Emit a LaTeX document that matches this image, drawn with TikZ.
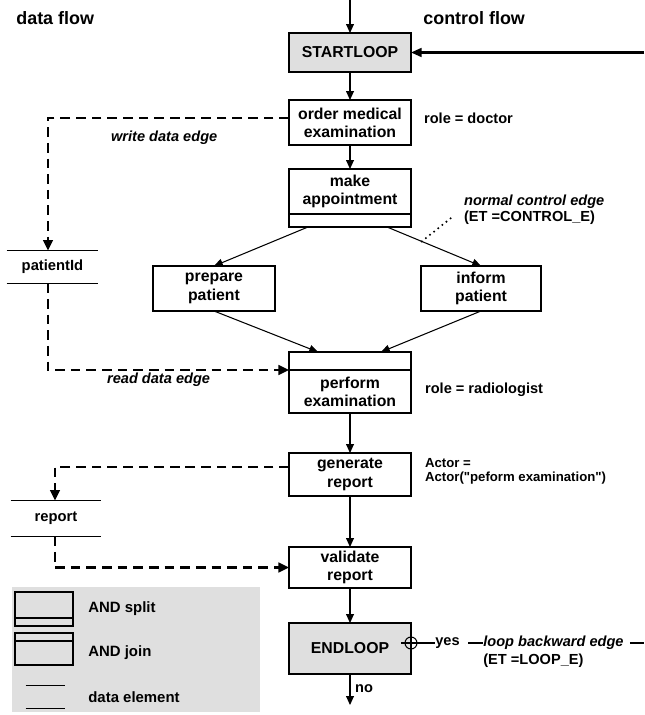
\documentclass[tikz,border=0pt]{standalone}
\usepackage{fontspec}
\setmainfont{Liberation Sans}
\usetikzlibrary{arrows.meta,positioning}

\tikzset{
  task/.style={draw, line width=0.6pt, minimum width=2.44cm, minimum height=0.9cm, align=center, inner sep=1pt, outer sep=0pt, font=\fontsize{9}{10.4}\selectfont\bfseries},
  loopbox/.style={task, fill=gray!25},
  band/.style={draw, line width=0.6pt, minimum width=2.44cm, inner sep=0pt, outer sep=0pt},
  head/.style={anchor=west, inner sep=0pt, font=\fontsize{10.2}{12}\selectfont\bfseries},
  note/.style={anchor=west, inner sep=1pt, font=\fontsize{8.3}{9.6}\selectfont\bfseries},
  enote/.style={note, font=\fontsize{8.3}{9.6}\selectfont\bfseries\itshape},
  smallnote/.style={note, font=\fontsize{7.5}{8.6}\selectfont\bfseries},
  legendtext/.style={anchor=west, inner sep=0pt, font=\fontsize{8.5}{10}\selectfont\bfseries},
  dataelem/.style={minimum width=1.82cm, minimum height=0.64cm, inner sep=0pt, font=\fontsize{8.4}{10}\selectfont\bfseries},
  flow/.style={line width=0.6pt, -{Triangle[length=5pt,width=4.4pt]}},
  dataflow/.style={line width=1.3pt, dash pattern=on 5.5pt off 3.4pt, -{Triangle[length=6pt,width=5.5pt]}},
  loopline/.style={line width=1.2pt},
}

\begin{document}
\begin{tikzpicture}
\useasboundingbox (0,0) rectangle (12.88,-14.3);

\node[head] (dflow) at (0.32,-0.36) {data flow};
\node[head] (cflow) at (8.46,-0.36) {control flow};

% control flow
\coordinate (top) at (7,0);
\node[loopbox, minimum height=0.78cm] (sl) at (7,-1.05) {STARTLOOP};
\node[task] (ome) at (7,-2.45) {order medical\\examination};
\node[task] (ma) at (7,-3.83) {make\\appointment};
\node[band, minimum height=0.26cm, below=0pt of ma] (maband) {};
\node[task] (prep) at (4.28,-5.77) {prepare\\patient};
\node[task, minimum width=2.4cm] (inf) at (9.62,-5.77) {inform\\patient};
\node[band, minimum height=0.36cm] (peband) at (7,-7.22) {};
\node[task, minimum height=0.86cm, below=0pt of peband] (pe) {perform\\examination};
\node[task, minimum height=0.86cm] (gr) at (7,-9.49) {generate\\report};
\node[task, minimum height=0.82cm] (va) at (7,-11.35) {validate\\report};
\node[loopbox, minimum height=1.02cm] (el) at (7,-12.97) {ENDLOOP};
\coordinate (noend) at (7,-14.1);

\draw[flow] (top) -- (sl);
\draw[flow] (sl) -- (ome);
\draw[flow] (ome) -- (ma);
\draw[flow] ([xshift=-0.84cm]maband.south) -- (prep.north);
\draw[flow] ([xshift=0.74cm]maband.south) -- coordinate[pos=0.37] (cedge) (inf.north);
\draw[flow] (prep.south) -- ([xshift=-0.64cm]peband.north);
\draw[flow] (inf.south) -- ([xshift=0.62cm]peband.north);
\draw[flow] (pe) -- (gr);
\draw[flow] (gr) -- (va);
\draw[flow] (va) -- (el);
\draw[flow] (el) -- (noend);
\node[note] (no) at (7.06,-13.78) {no};

% loop edge
\coordinate (loopin) at (12.88,-1.05);
\draw[loopline, -{Triangle[length=6pt,width=5pt]}] (loopin) -- (sl.east);
\coordinate (xo) at ([yshift=0.11cm]el.east);
\draw[line width=0.6pt] (xo) circle (0.12);
\draw[line width=0.6pt] ([xshift=-0.2cm]xo) -- (xo);
\draw[line width=0.6pt] ([yshift=0.15cm]xo) -- ([yshift=-0.15cm]xo);
\node[note, inner sep=0pt] (yes) at (8.7,-12.86) {yes};
\node[enote, inner sep=0pt] (lbe) at (9.66,-12.86) {loop backward edge};
\node[note, inner sep=0pt] (lbet) at (9.66,-13.22) {(ET =LOOP\_E)};
\coordinate (loopout) at (12.88,-12.86);
\draw[loopline] (xo) -- (yes.west);
\draw[loopline] ([xshift=0.16cm]yes.east) -- (lbe.west);
\draw[loopline] ([xshift=0.12cm]lbe.east) -- (loopout);

% annotations
\node[note] (rdoc) at (8.44,-2.36) {role = doctor};
\node[note] (rrad) at (8.46,-7.8) {role = radiologist};
\node[smallnote] (act) at (8.46,-9.26) {Actor =};
\node[smallnote] (actof) at (8.46,-9.56) {Actor(\textquotedbl peform examination\textquotedbl)};
\node[enote] (nce) at (9.24,-4.04) {normal control edge};
\node[note] (ctl) at (9.24,-4.36) {(ET =CONTROL\_E)};
\draw[line width=1.3pt, line cap=round, dash pattern=on 0pt off 3pt] (cedge) -- ([xshift=-0.22cm]ctl.west);

% data flow
\node[dataelem] (pid) at (1.05,-5.34) {patientId};
\node[dataelem, minimum width=1.8cm, minimum height=0.7cm] (rep) at (1.12,-10.37) {report};
\draw[dataflow] ([yshift=0.09cm]ome.west) -| ([xshift=-0.09cm]pid.north);
\draw[dataflow] ([xshift=-0.09cm]pid.south) |- (peband.south west);
\draw[dataflow] ([yshift=0.15cm]gr.west) -| ([xshift=-0.02cm]rep.north);
\draw[dataflow] ([xshift=-0.02cm]rep.south) |- (va.west);
\node[enote] (wde) at (2.18,-2.76) {write data edge};
\node[enote] (rde) at (2.1,-7.6) {read data edge};

% legend
\fill[gray!25] (0.24,-11.74) rectangle (5.2,-14.24);
\node[band, minimum width=1.16cm, minimum height=0.52cm] (lsplit) at (0.88,-12.1) {};
\node[band, minimum width=1.16cm, minimum height=0.16cm, below=0pt of lsplit] (lsplitband) {};
\node[band, minimum width=1.16cm, minimum height=0.16cm] (ljoinband) at (0.88,-12.74) {};
\node[band, minimum width=1.16cm, minimum height=0.48cm, below=0pt of ljoinband] (ljoin) {};
\node[dataelem, minimum width=0.78cm, minimum height=0.44cm] (ldata) at (0.91,-13.94) {};
\node[legendtext] (lsplittxt) at (1.76,-12.18) {AND split};
\node[legendtext] (ljointxt) at (1.76,-13.06) {AND join};
\node[legendtext] (ldatatxt) at (1.76,-13.94) {data element};

\foreach \d in {pid,rep,ldata}
{
	\draw[line width=0.6pt] (\d.north west) -- (\d.north east);
	\draw[line width=0.6pt] (\d.south west) -- (\d.south east);
}
\end{tikzpicture}
\end{document}
